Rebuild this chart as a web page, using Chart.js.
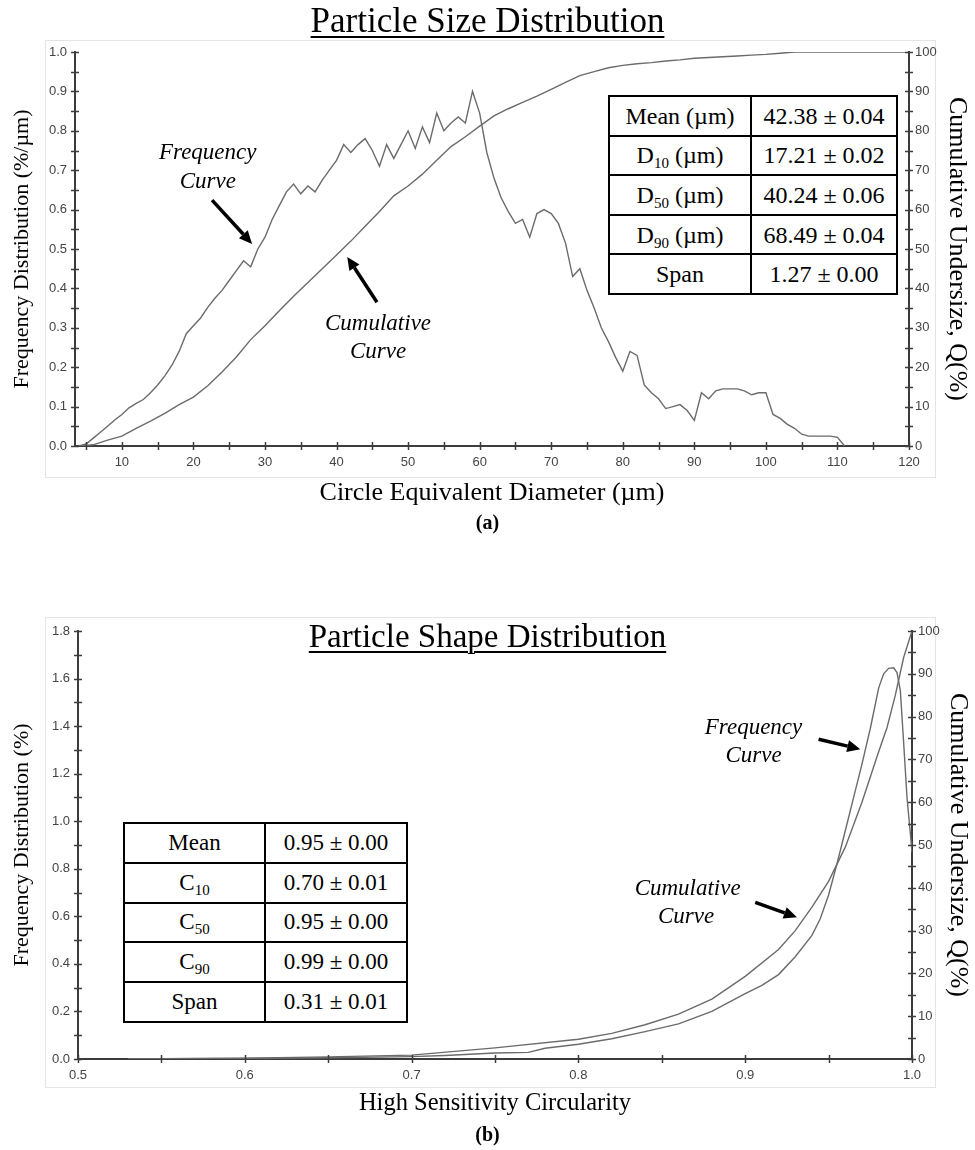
<!DOCTYPE html>
<html><head><meta charset="utf-8">
<script src="https://cdn.jsdelivr.net/npm/chart.js@4.4.1/dist/chart.umd.min.js"></script>
<style>
body{margin:0;background:#fff;width:975px;height:1150px;position:relative;overflow:hidden;font-family:"Liberation Serif","Times New Roman",serif;color:#000;}
.frame{position:absolute;border:1px solid #e4e4e4;box-sizing:border-box;}
canvas{position:absolute;left:0;}
.ttl{position:absolute;left:0;width:975px;text-align:center;text-decoration:underline;text-decoration-thickness:2px;text-underline-offset:4px;}
.lab{position:absolute;left:0;width:975px;text-align:center;font-size:20px;font-weight:bold;line-height:20px;}
table.stats{position:absolute;border-collapse:collapse;background:#fff;table-layout:fixed;}
table.stats td{border:2px solid #000;text-align:center;padding:0;line-height:22px;}
table.stats sub{font-size:15px;vertical-align:-5px;line-height:0;}
</style></head>
<body>
<div class="frame" style="left:45px;top:40px;width:891px;height:438px;"></div>
<div class="frame" style="left:45px;top:617px;width:891px;height:471px;"></div>
<canvas id="c1" width="975" height="540" style="top:0"></canvas>
<canvas id="c2" width="975" height="550" style="top:600px"></canvas>
<div class="ttl" style="top:3px;font-size:35px;line-height:36px;">Particle Size Distribution</div>
<div class="ttl" style="top:619px;font-size:33px;line-height:34px;">Particle Shape Distribution</div>
<div class="lab" style="top:512px;">(a)</div>
<div class="lab" style="top:1124px;">(b)</div>

<table class="stats" style="left:608px;top:95px;width:288px;font-size:24px;">
<colgroup><col style="width:142px"><col style="width:146px"></colgroup>
<tbody id="t1"></tbody></table>
<table class="stats" style="left:123px;top:822px;width:283px;font-size:23px;">
<colgroup><col style="width:141px"><col style="width:142px"></colgroup>
<tbody id="t2"></tbody></table>

<script>
// ---------- DATA: (a) Particle Size Distribution ----------
const sizeDiameter = [4,5,6,7,8,9,10,11,12,13,14,15,16,17,18,19,20,21,22,23,24,25,26,27,28,29,30,31,32,33,34,35,36,37,38,39,40,41,42,43,44,45,46,47,48,49,50,51,52,53,54,55,56,57,58,59,60,61,62,63,64,65,66,67,68,69,70,71,72,73,74,75,76,77,78,79,80,81,82,83,84,85,86,87,88,89,90,91,92,93,94,95,96,97,98,99,100,101,102,103,104,105,106,107,108,109,110,111];
const sizeFrequency = [0,0.005,0.02,0.035,0.05,0.066,0.08,0.097,0.108,0.118,0.135,0.155,0.178,0.205,0.24,0.285,0.305,0.325,0.352,0.375,0.395,0.42,0.445,0.47,0.455,0.5,0.53,0.575,0.61,0.645,0.665,0.64,0.66,0.645,0.675,0.7,0.725,0.765,0.745,0.765,0.78,0.75,0.71,0.765,0.73,0.765,0.8,0.755,0.81,0.77,0.845,0.8,0.82,0.835,0.82,0.9,0.845,0.745,0.68,0.63,0.595,0.565,0.575,0.53,0.59,0.6,0.59,0.565,0.515,0.43,0.45,0.395,0.35,0.3,0.265,0.225,0.19,0.24,0.23,0.155,0.135,0.12,0.095,0.1,0.105,0.09,0.065,0.135,0.12,0.14,0.145,0.145,0.145,0.14,0.13,0.135,0.135,0.08,0.07,0.055,0.045,0.03,0.025,0.025,0.025,0.025,0.022,0];
const sizeCumDiameter = [4,6,8,10,12,14,16,18,20,22,24,26,28,30,32,34,36,38,40,42,44,46,48,50,52,54,56,58,60,62,64,66,68,70,72,74,76,78,80,82,84,86,88,90,92,94,96,98,100,102,104,106,120];
const sizeCumulative = [0,0.3,1.5,2.5,4.5,6.3,8.3,10.5,12.4,15.3,18.8,22.6,27,30.5,34.3,38,41.5,45,48.5,52,55.8,59.5,63.5,66,69,72.5,76,78.5,81.2,83.8,85.6,87.2,88.8,90.5,92.3,94,95,96,96.6,97,97.3,97.7,98,98.4,98.6,98.8,99,99.2,99.4,99.7,100,100,100];
const sizeXLabels = [10,20,30,40,50,60,70,80,90,100,110,120];
const sizeYLabels = ['0.0','0.1','0.2','0.3','0.4','0.5','0.6','0.7','0.8','0.9','1.0'];
const sizeY2Labels = [0,10,20,30,40,50,60,70,80,90,100];
const sizeTableNames = ['Mean (µm)','D<sub>10</sub> (µm)','D<sub>50</sub> (µm)','D<sub>90</sub> (µm)','Span'];
const sizeTableValues = ['42.38 ± 0.04','17.21 ± 0.02','40.24 ± 0.06','68.49 ± 0.04','1.27 ± 0.00'];

// ---------- DATA: (b) Particle Shape Distribution ----------
const shapeFreqCirc = [0.53,0.55,0.6,0.65,0.7,0.72,0.75,0.77,0.78,0.8,0.82,0.84,0.86,0.88,0.9,0.91,0.92,0.93,0.94,0.945,0.95,0.955,0.96,0.965,0.97,0.975,0.98,0.983,0.986,0.989,0.991,0.993,0.995,0.997,0.999,1.0];
const shapeFrequency = [0,0.001,0.002,0.005,0.01,0.015,0.025,0.028,0.045,0.062,0.085,0.115,0.148,0.2,0.275,0.31,0.355,0.43,0.52,0.59,0.69,0.82,0.96,1.1,1.24,1.39,1.56,1.62,1.643,1.645,1.625,1.55,1.33,1.1,0.95,0.87];
const shapeCumCirc = [0.53,0.55,0.6,0.65,0.7,0.75,0.8,0.82,0.84,0.86,0.88,0.9,0.92,0.93,0.94,0.95,0.96,0.97,0.98,0.985,0.99,0.995,1.0];
const shapeCumulative = [0,0.05,0.2,0.5,0.9,2.6,4.6,6,8,10.5,14,19.3,25.6,30,35.5,41.5,49.5,60,71.8,77.4,85,93.8,100];
const shapeXLabels = ['0.5','0.6','0.7','0.8','0.9','1.0'];
const shapeYLabels = ['0.0','0.2','0.4','0.6','0.8','1.0','1.2','1.4','1.6','1.8'];
const shapeY2Labels = [0,10,20,30,40,50,60,70,80,90,100];
const shapeTableNames = ['Mean','C<sub>10</sub>','C<sub>50</sub>','C<sub>90</sub>','Span'];
const shapeTableValues = ['0.95 ± 0.00','0.70 ± 0.01','0.95 ± 0.00','0.99 ± 0.00','0.31 ± 0.01'];

// ---------- tables ----------
function fillTable(id, names, vals, h){
  const tb=document.getElementById(id);
  names.forEach((n,i)=>{
    const tr=document.createElement('tr');
    tr.innerHTML='<td style="height:'+h+'px">'+n+'</td><td>'+vals[i]+'</td>';
    tb.appendChild(tr);
  });
}
fillTable('t1',sizeTableNames,sizeTableValues,37.6);
fillTable('t2',shapeTableNames,shapeTableValues,37.8);

// ---------- helpers ----------
const pts=(xs,ys)=>xs.map((x,i)=>({x:x,y:ys[i]}));
function tickList(min,max,step){const a=[];for(let v=min;v<=max+1e-9;v+=step)a.push(+v.toFixed(4));return a;}
function isLabel(v,labels){return labels.some(l=>Math.abs(parseFloat(l)-v)<1e-6);}
const LINE='#6b6b6b';
const AXIS='#3c3c3c';
const SERIF='"Liberation Serif","Times New Roman",serif';
const tickFont={family:'"Liberation Sans", Arial, sans-serif',size:13};

const crossTicks={
  id:'crossTicks',
  afterDraw(chart){
    const ctx=chart.ctx,ca=chart.chartArea;
    ctx.save();ctx.strokeStyle=AXIS;ctx.lineWidth=1.5;
    Object.values(chart.scales).forEach(s=>{
      s.ticks.forEach(t=>{
        const p=Math.round(s.getPixelForValue(t.value))+0.5;
        ctx.beginPath();
        if(s.isHorizontal()){ctx.moveTo(p,ca.bottom-4);ctx.lineTo(p,ca.bottom+4);}
        else{const x=s.position==='left'?ca.left:ca.right;ctx.moveTo(x-4,p);ctx.lineTo(x+4,p);}
        ctx.stroke();
      });
    });
    ctx.restore();
  }
};
const notes={
  id:'notes',
  afterDatasetsDraw(chart,args,opts){
    const ctx=chart.ctx,xs=chart.scales.x,ys=chart.scales.y;
    ctx.save();
    ctx.font='italic 23px '+SERIF;
    ctx.fillStyle='#000';ctx.textAlign='center';ctx.textBaseline='middle';
    (opts.texts||[]).forEach(t=>ctx.fillText(t.text,xs.getPixelForValue(t.x),ys.getPixelForValue(t.y)));
    (opts.arrows||[]).forEach(a=>{
      const x1=xs.getPixelForValue(a.x1),y1=ys.getPixelForValue(a.y1),x2=xs.getPixelForValue(a.x2),y2=ys.getPixelForValue(a.y2);
      const ang=Math.atan2(y2-y1,x2-x1),hl=13,hw=6;
      const bx=x2-hl*Math.cos(ang),by=y2-hl*Math.sin(ang);
      ctx.strokeStyle='#000';ctx.lineWidth=3.5;ctx.lineCap='butt';
      ctx.beginPath();ctx.moveTo(x1,y1);ctx.lineTo(bx,by);ctx.stroke();
      ctx.beginPath();ctx.moveTo(x2,y2);
      ctx.lineTo(bx+hw*Math.sin(ang),by-hw*Math.cos(ang));
      ctx.lineTo(bx-hw*Math.sin(ang),by+hw*Math.cos(ang));
      ctx.closePath();ctx.fill();
    });
    ctx.restore();
  }
};

function axisCommon(){
  return {grid:{display:true,drawOnChartArea:false,color:'rgba(0,0,0,0)',tickLength:5},
          border:{display:true,color:AXIS,width:2}};
}
function makeChart(id,cfg){
  const yTicks=cfg.yTicks,y2Ticks=cfg.y2Ticks,xTicks=cfg.xTicks;
  return new Chart(document.getElementById(id),{
    type:'scatter',
    data:{datasets:[
      {label:'Frequency Curve',data:cfg.freq,yAxisID:'y',showLine:true,borderColor:LINE,borderWidth:1.4,pointRadius:0,tension:0,fill:false},
      {label:'Cumulative Curve',data:cfg.cum,yAxisID:'y2',showLine:true,borderColor:LINE,borderWidth:1.4,pointRadius:0,tension:0,fill:false}
    ]},
    options:{
      responsive:false,animation:false,devicePixelRatio:1,
      layout:{padding:{top:cfg.padTop,left:0,right:0,bottom:0}},
      plugins:{legend:{display:false},tooltip:{enabled:false},title:{display:false},
        notes:cfg.notes},
      scales:{
        x:Object.assign(axisCommon(),{type:'linear',position:'bottom',min:cfg.xmin,max:cfg.xmax,
          afterBuildTicks:s=>{s.ticks=xTicks.map(v=>({value:v}));},
          afterFit:s=>{s.height=cfg.xh;},
          ticks:{autoSkip:false,maxRotation:0,padding:4,color:'#444',font:tickFont,
            callback:v=>isLabel(v,cfg.xLabels)?cfg.xFmt(v):''},
          title:{display:true,text:cfg.xTitle,color:'#000',font:{family:SERIF,size:cfg.xTitleSize},padding:{top:0,bottom:cfg.xTitlePad}}}),
        y:Object.assign(axisCommon(),{type:'linear',position:'left',min:cfg.ymin,max:cfg.ymax,
          afterBuildTicks:s=>{s.ticks=yTicks.map(v=>({value:v}));},
          afterFit:s=>{s.width=cfg.yw;},
          ticks:{autoSkip:false,padding:3,color:'#444',font:tickFont,
            callback:v=>isLabel(v,cfg.yLabels)?v.toFixed(1):''},
          title:{display:true,text:cfg.yTitle,color:'#000',font:{family:SERIF,size:22},padding:{top:9,bottom:0}}}),
        y2:Object.assign(axisCommon(),{type:'linear',position:'right',min:0,max:100,
          afterBuildTicks:s=>{s.ticks=y2Ticks.map(v=>({value:v}));},
          afterFit:s=>{s.width=cfg.y2w;},
          ticks:{autoSkip:false,padding:1,color:'#444',font:tickFont,
            callback:v=>isLabel(v,cfg.y2Labels)?String(v):''},
          title:{display:true,text:'Cumulative Undersize, Q(%)',color:'#000',font:{family:SERIF,size:26},padding:{top:cfg.y2TitlePad,bottom:0}}})
      }
    },
    plugins:[crossTicks,notes]
  });
}

makeChart('c1',{
  freq:pts(sizeDiameter,sizeFrequency),cum:pts(sizeCumDiameter,sizeCumulative),
  xmin:3.45,xmax:120,ymin:0,ymax:1,padTop:52,xh:94,yw:75,y2w:66,
  xTitleSize:26,xTitlePad:31,y2TitlePad:3,
  xTicks:tickList(5,120,5),yTicks:tickList(0,1,0.05),y2Ticks:tickList(0,100,5),
  xLabels:sizeXLabels,yLabels:sizeYLabels,y2Labels:sizeY2Labels,
  xFmt:v=>String(v),
  xTitle:'Circle Equivalent Diameter (µm)',yTitle:'Frequency Distribution (%/µm)',
  notes:{texts:[{text:'Frequency',x:22.0,y:0.744},{text:'Curve',x:22.0,y:0.670},
                {text:'Cumulative',x:45.8,y:0.310},{text:'Curve',x:45.8,y:0.239}],
         arrows:[{x1:22.6,y1:0.624,x2:28.2,y2:0.513},{x1:45.65,y1:0.365,x2:41.5,y2:0.48}]}
});

makeChart('c2',{
  freq:pts(shapeFreqCirc,shapeFrequency),cum:pts(shapeCumCirc,shapeCumulative),
  xmin:0.5,xmax:1.0,ymin:0,ymax:1.8,padTop:31,xh:91,yw:78,y2w:63,
  xTitleSize:24.5,xTitlePad:32,y2TitlePad:2,
  xTicks:tickList(0.5,1.0,0.05),yTicks:tickList(0,1.8,0.1),y2Ticks:tickList(0,100,5),
  xLabels:shapeXLabels,yLabels:shapeYLabels,y2Labels:shapeY2Labels,
  xFmt:v=>v.toFixed(1),
  xTitle:'High Sensitivity Circularity',yTitle:'Frequency Distribution (%)',
  notes:{texts:[{text:'Frequency',x:0.905,y:1.393},{text:'Curve',x:0.905,y:1.274},
                {text:'Cumulative',x:0.8655,y:0.715},{text:'Curve',x:0.8645,y:0.596}],
         arrows:[{x1:0.944,y1:1.345,x2:0.969,y2:1.303},{x1:0.906,y1:0.659,x2:0.931,y2:0.596}]}
});
</script>
</body></html>
